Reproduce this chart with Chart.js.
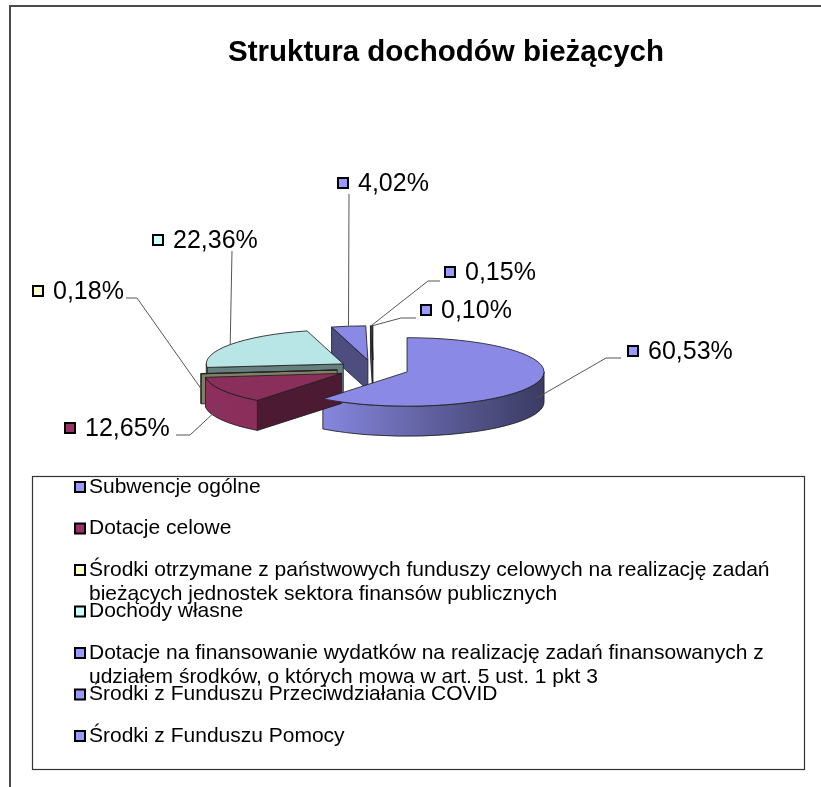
<!DOCTYPE html>
<html>
<head>
<meta charset="utf-8">
<script src="https://cdn.jsdelivr.net/npm/chart.js@4.4.1/dist/chart.umd.min.js"></script>
<style>
  html, body { margin: 0; padding: 0; background: #fff; }
  canvas { display: block; }
</style>
</head>
<body>
<canvas id="incomeChart" width="821" height="787"></canvas>
<script>
// Data
const chartTitle = "Struktura dochodów bieżących";
const categories = [
  "Subwencje ogólne",
  "Dotacje celowe",
  "Środki otrzymane z państwowych funduszy celowych na realizację zadań bieżących jednostek sektora finansów publicznych",
  "Dochody własne",
  "Dotacje na finansowanie wydatków na realizację zadań finansowanych z udziałem środków, o których mowa w art. 5 ust. 1 pkt 3",
  "Środki z Funduszu Przeciwdziałania COVID",
  "Środki z Funduszu Pomocy"
];
const shares = [60.53, 12.65, 0.18, 22.36, 4.02, 0.15, 0.10];
const sliceColors = ["#9999FF", "#993366", "#FFFFCC", "#CCFFFF", "#9999FF", "#9999FF", "#9999FF"];

// Layout of the pseudo-3D pie
const PIE = { cx: 373, cy: 369, r: 137, tilt: 0.25, explode: 36, depth: 30 };
const FONT = "'Liberation Sans', Arial, sans-serif";

// label boxes + leader stubs (screen coords)
const labelSpots = [
  { box: [627, 351], stub: [[621, 358], [606, 358]] },
  { box: [64, 428], stub: [[176, 435], [190, 435]] },
  { box: [32, 291], stub: [[126, 298], [137, 298]] },
  { box: [152, 240], stub: [[232, 251]] },
  { box: [337, 183], stub: [[349, 194]] },
  { box: [444, 272], stub: [[440, 281], [428, 281]] },
  { box: [420, 310], stub: [[416, 318], [401, 318]] }
];

function shade(hex, f) {
  const n = parseInt(hex.slice(1), 16);
  const r = Math.round(((n >> 16) & 255) * f);
  const g = Math.round(((n >> 8) & 255) * f);
  const b = Math.round((n & 255) * f);
  return `rgb(${r},${g},${b})`;
}

function baseY(chart) {
  const a = chart.chartArea;
  return (a.top + a.bottom) / 2;
}

// point on the top ellipse of a slice, in screen space
function edgePoint(el, by, ang, dy) {
  return [
    el.x + el.outerRadius * Math.cos(ang),
    by + (el.y - by + el.outerRadius * Math.sin(ang)) * PIE.tilt + (dy || 0)
  ];
}

function apexPoint(el, by, dy) {
  return [el.x, by + (el.y - by) * PIE.tilt + (dy || 0)];
}

const pie3d = {
  id: "pie3d",
  afterUpdate(chart) {
    // explode every slice along its middle angle
    const a = chart.chartArea;
    const bx = (a.left + a.right) / 2;
    const by = (a.top + a.bottom) / 2;
    chart.getDatasetMeta(0).data.forEach((el) => {
      const m = (el.startAngle + el.endAngle) / 2;
      el.x = bx + PIE.explode * Math.cos(m);
      el.y = by + PIE.explode * Math.sin(m);
    });
  },
  beforeDraw(chart) {
    const ctx = chart.ctx;
    ctx.save();
    // outer frame
    ctx.fillStyle = "#4a4a4a";
    ctx.fillRect(9, 5, 812, 2);
    ctx.fillRect(9, 5, 2, 782);
    // title
    ctx.fillStyle = "#000";
    ctx.font = `bold 29.5px ${FONT}`;
    ctx.textAlign = "center";
    ctx.textBaseline = "middle";
    ctx.fillText(chartTitle, 446, 53);
    // legend box
    ctx.strokeStyle = "#333";
    ctx.lineWidth = 1.2;
    ctx.strokeRect(32.5, 476.5, 772, 293);
    ctx.font = `21px ${FONT}`;
    ctx.textAlign = "left";
    categories.forEach((label, i) => {
      const y = 487 + i * 41.5;
      ctx.fillStyle = sliceColors[i];
      ctx.fillRect(75, y - 5, 10, 10);
      ctx.strokeStyle = "#000";
      ctx.lineWidth = 2;
      ctx.strokeRect(75, y - 5, 10, 10);
      // wrap long labels
      const words = label.split(" ");
      const lines = [];
      let line = "";
      words.forEach((w) => {
        const test = line ? line + " " + w : w;
        if (ctx.measureText(test).width > 700 && line) {
          lines.push(line);
          line = w;
        } else {
          line = test;
        }
      });
      lines.push(line);
      ctx.fillStyle = "#000";
      lines.forEach((t, j) => ctx.fillText(t, 89, y + j * 24.5));
    });
    ctx.restore();
  },
  beforeDatasetsDraw(chart) {
    const ctx = chart.ctx;
    const by = baseY(chart);
    const d = PIE.depth;
    const arcs = chart.getDatasetMeta(0).data.map((el, i) => ({ el, i }));
    arcs.sort((p, q) =>
      Math.sin((p.el.startAngle + p.el.endAngle) / 2) - Math.sin((q.el.startAngle + q.el.endAngle) / 2));

    ctx.save();
    ctx.lineWidth = 1;
    ctx.strokeStyle = "rgba(30,30,30,0.85)";
    arcs.forEach(({ el, i }) => {
      const col = sliceColors[i];
      const s = el.startAngle, e = el.endAngle;
      const ap = apexPoint(el, by);
      const cutFace = (ang) => {
        const p = edgePoint(el, by, ang);
        ctx.beginPath();
        ctx.moveTo(ap[0], ap[1]);
        ctx.lineTo(p[0], p[1]);
        ctx.lineTo(p[0], p[1] + d);
        ctx.lineTo(ap[0], ap[1] + d);
        ctx.closePath();
        ctx.fillStyle = shade(col, 0.5);
        ctx.fill();
        ctx.stroke();
      };
      if (Math.cos(s) < -1e-9) cutFace(s);
      if (Math.cos(e) > 1e-9) cutFace(e);

      // outer wall, only the part facing the viewer
      const a0 = Math.max(s, 0), a1 = Math.min(e, Math.PI);
      if (a1 > a0) {
        const cy = by + (el.y - by) * PIE.tilt;
        const ry = el.outerRadius * PIE.tilt;
        const g = ctx.createLinearGradient(PIE.cx - PIE.r - PIE.explode, 0, PIE.cx + PIE.r + PIE.explode, 0);
        g.addColorStop(0, shade(col, 0.92));
        g.addColorStop(0.35, shade(col, 0.88));
        g.addColorStop(0.7, shade(col, 0.6));
        g.addColorStop(1, shade(col, 0.38));
        ctx.beginPath();
        ctx.ellipse(el.x, cy, el.outerRadius, ry, 0, a0, a1, false);
        ctx.ellipse(el.x, cy + d, el.outerRadius, ry, 0, a1, a0, true);
        ctx.closePath();
        ctx.fillStyle = g;
        ctx.fill();
        ctx.stroke();
      }
    });
    ctx.restore();

    // squash the top faces drawn by Chart.js
    ctx.save();
    ctx.translate(0, by);
    ctx.scale(1, PIE.tilt);
    ctx.translate(0, -by);
  },
  afterDatasetsDraw(chart) {
    const ctx = chart.ctx;
    ctx.restore();
    const by = baseY(chart);
    const meta = chart.getDatasetMeta(0);

    ctx.save();
    // outlines of top faces
    ctx.lineWidth = 1;
    ctx.strokeStyle = "rgba(30,30,30,0.85)";
    meta.data.forEach((el) => {
      const ap = apexPoint(el, by);
      const cy = by + (el.y - by) * PIE.tilt;
      ctx.beginPath();
      ctx.moveTo(ap[0], ap[1]);
      ctx.ellipse(el.x, cy, el.outerRadius, el.outerRadius * PIE.tilt, 0, el.startAngle, el.endAngle, false);
      ctx.closePath();
      ctx.stroke();
    });

    // leader lines and labels
    ctx.font = `25px ${FONT}`;
    ctx.textBaseline = "middle";
    ctx.textAlign = "left";
    meta.data.forEach((el, i) => {
      const spot = labelSpots[i];
      const m = (el.startAngle + el.endAngle) / 2;
      const p = edgePoint(el, by, m, Math.sin(m) > 0 ? PIE.depth / 2 : 0);
      ctx.strokeStyle = "#555";
      ctx.lineWidth = 1;
      ctx.beginPath();
      ctx.moveTo(spot.stub[0][0], spot.stub[0][1]);
      spot.stub.slice(1).forEach((q) => ctx.lineTo(q[0], q[1]));
      ctx.lineTo(p[0], p[1]);
      ctx.stroke();

      const [bxp, byp] = spot.box;
      ctx.fillStyle = sliceColors[i];
      ctx.fillRect(bxp + 1, byp - 5, 10, 10);
      ctx.strokeStyle = "#000";
      ctx.lineWidth = 2;
      ctx.strokeRect(bxp + 1, byp - 5, 10, 10);
      ctx.fillStyle = "#000";
      ctx.fillText(shares[i].toFixed(2).replace(".", ",") + "%", bxp + 21, byp + 1);
    });
    ctx.restore();
  }
};

const ctx = document.getElementById("incomeChart").getContext("2d");
new Chart(ctx, {
  type: "pie",
  data: {
    labels: categories,
    datasets: [
      {
        data: shares,
        backgroundColor: sliceColors.map((c) => shade(c, 0.9)),
        borderWidth: 0,
        clip: false
      }
    ]
  },
  options: {
    responsive: false,
    animation: false,
    events: [],
    radius: PIE.r,
    layout: {
      padding: { left: PIE.cx - 150, right: 821 - PIE.cx - 150, top: PIE.cy - 150, bottom: 787 - PIE.cy - 150 }
    },
    plugins: {
      legend: { display: false },
      tooltip: { enabled: false },
      title: { display: false }
    }
  },
  plugins: [pie3d]
});
</script>
</body>
</html>
